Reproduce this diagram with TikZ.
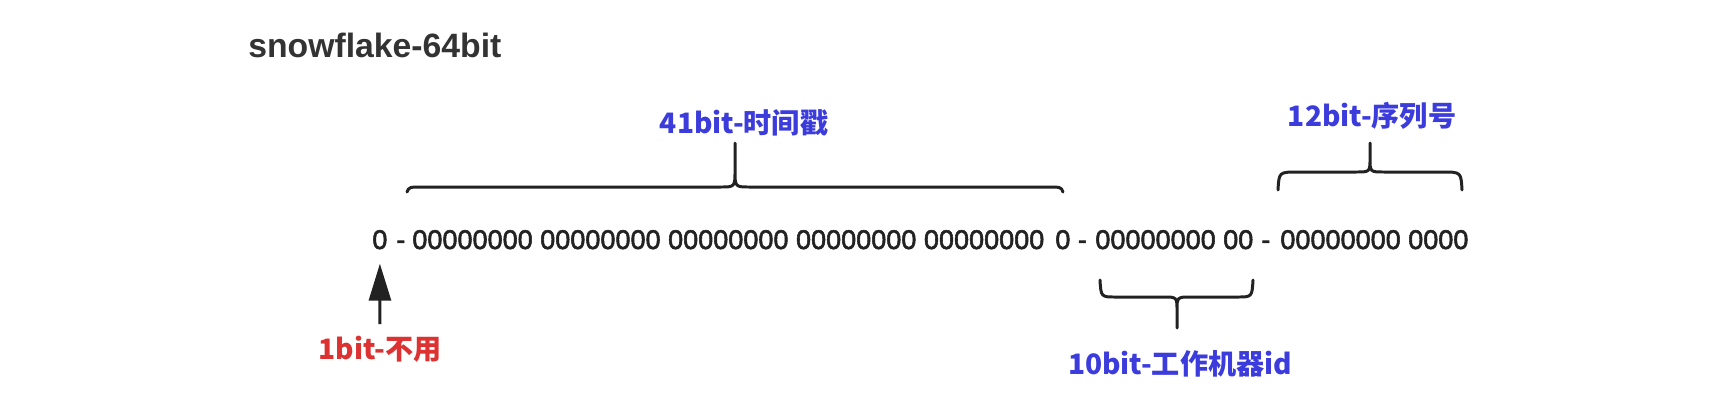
\documentclass[tikz,border=0pt]{standalone}
\usepackage{fontspec}
\setmainfont{Liberation Sans}
\newfontfamily\bitfont[FakeBold=2]{Liberation Sans}
\newfontfamily\cjk{Noto Sans CJK SC}
\usetikzlibrary{arrows.meta}
\definecolor{ink}{HTML}{222222}
\definecolor{titlegray}{HTML}{333333}
\definecolor{fieldblue}{HTML}{3C3CDC}
\definecolor{unusedred}{HTML}{DC3232}

\begin{document}
\begin{tikzpicture}[x=0.2mm, y=-0.2mm,
  bits/.style={inner sep=0pt, anchor=base west, text=ink, font=\bitfont\fontsize{15.4}{18}\selectfont},
  field/.style={inner sep=0pt, font=\cjk\bfseries\fontsize{16}{19}\selectfont},
  brace line/.style={draw=ink, line width=1.7pt, line cap=round, line join=round},
  pointer/.style={draw=ink, line width=1.7pt, -{Triangle[length=21pt, width=12.5pt]}}]

\useasboundingbox (0,0) rectangle (1730,410);

\node[inner sep=0pt, anchor=base west, text=titlegray, font=\bfseries\fontsize{19.2}{23}\selectfont] (title) at (248,57) {snowflake-64bit};

\node[bits] (signbit) at (372,249) {0};
\node[bits] (sep1) at (396,249) {-};
\node[bits] (stamp) at (412,249) {00000000 00000000 00000000 00000000 00000000};
\node[bits] (stamplast) at (1055,249) {0 -};
\node[bits] (worker) at (1095,249) {00000000 00};
\node[bits] (sep3) at (1261,249) {-};
\node[bits] (seq) at (1280,249) {00000000 0000};

\node[field, text=fieldblue] (stamplabel) at (744,123) {41bit-时间戳};
\node[field, text=fieldblue] (seqlabel) at (1372,116) {12bit-序列号};
\node[field, text=fieldblue] (workerlabel) at (1180,364) {10bit-工作机器id};
\node[field, text=unusedred] (unused) at (380,349) {1bit-不用};

\draw[brace line] (407,192) .. controls (409,187) .. (424,187) -- (720,187) .. controls (735,187) .. (735,170) -- (735,143) -- (735,170) .. controls (735,187) .. (750,187) -- (1046,187) .. controls (1061,187) .. (1063,192);
\draw[brace line] (1278,190) .. controls (1279,172) .. (1298,172) -- (1356,172) .. controls (1370,172) .. (1370,158) -- (1370,143) -- (1370,158) .. controls (1370,172) .. (1384,172) -- (1442,172) .. controls (1461,172) .. (1462,190);
\draw[brace line] (1100,280) .. controls (1101,297) .. (1116,297) -- (1163,297) .. controls (1177,297) .. (1177,311) -- (1177,328) -- (1177,311) .. controls (1177,297) .. (1191,297) -- (1237,297) .. controls (1252,297) .. (1253,280);

\draw[pointer, shorten <=6.5pt, shorten >=8pt] (unused.north) -- (signbit.south);

\end{tikzpicture}
\end{document}
